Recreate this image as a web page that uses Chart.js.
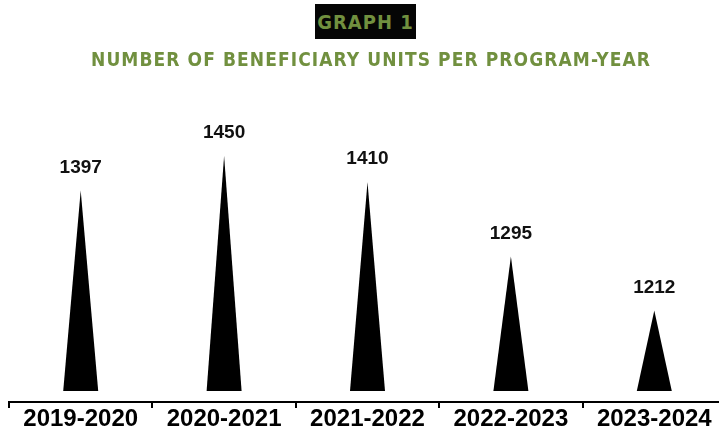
<!DOCTYPE html>
<html>
<head>
<meta charset="utf-8">
<script src="https://cdn.jsdelivr.net/npm/chart.js@4/dist/chart.umd.min.js"></script>
<style>
  html, body { margin: 0; padding: 0; background: #fff; width: 719px; height: 431px; overflow: hidden; }
  #wrap { position: absolute; left: 0; top: 0; width: 730px; height: 431px; }
  #badge { position: absolute; left: 315px; top: 4px; width: 101px; height: 35px; background: #050505;
           color: #71903f; font: bold 20px "DejaVu Sans Condensed", "DejaVu Sans"; text-align: center;
           line-height: 36px; letter-spacing: 1px; }
  #subtitle { position: absolute; left: 91px; top: 47px; white-space: nowrap;
              color: #71903f; font: bold 19px "DejaVu Sans Condensed", "DejaVu Sans"; line-height: 24px; }
</style>
</head>
<body>
<div id="wrap"><canvas id="chart"></canvas></div>
<div id="badge">GRAPH 1</div>
<div id="subtitle">NUMBER OF BENEFICIARY UNITS PER PROGRAM-YEAR</div>
<script>
// program years and beneficiary units
const years = ['2019-2020', '2020-2021', '2021-2022', '2022-2023', '2023-2024'];
const units = [1397, 1450, 1410, 1295, 1212];

// value axis range (graphic does not start at zero)
const spikeBase = 1088;
const yMin = 1071;
const yMax = 1544;

// stretch subtitle letter spacing to the width used in the graphic
(function () {
    const el = document.getElementById('subtitle');
    const target = 559;
    const w = el.getBoundingClientRect().width;
    const n = el.textContent.length;
    el.style.letterSpacing = ((target - w) / (n - 1)) + 'px';
})();

// draws each bar as a thin triangle plus its value above the tip
const spikes = {
    id: 'spikes',
    afterDatasetsDraw(chart) {
        const ctx = chart.ctx;
        ctx.save();
        chart.getDatasetMeta(0).data.forEach((bar, i) => {
            const p = bar.getProps(['x', 'y', 'base', 'width'], true);
            ctx.beginPath();
            ctx.moveTo(p.x - p.width / 2, p.base);
            ctx.lineTo(p.x, p.y);
            ctx.lineTo(p.x + p.width / 2, p.base);
            ctx.closePath();
            ctx.fillStyle = '#000';
            ctx.fill();

            ctx.font = 'bold 19px "Liberation Sans", Arial, sans-serif';
            ctx.fillStyle = '#111';
            ctx.textAlign = 'center';
            ctx.textBaseline = 'middle';
            ctx.fillText(units[i], p.x, p.y - 23);
        });
        ctx.restore();
    }
};

new Chart(document.getElementById('chart'), {
    type: 'bar',
    data: {
        labels: years,
        datasets: [{
            data: units,
            base: spikeBase,
            barThickness: 35,
            backgroundColor: 'rgba(0,0,0,0)'
        }]
    },
    options: {
        responsive: true,
        maintainAspectRatio: false,
        animation: false,
        layout: { padding: { left: 9, right: 4, top: 95, bottom: 0 } },
        plugins: { legend: { display: false }, tooltip: { enabled: false } },
        scales: {
            x: {
                grid: { display: true, offset: true, drawOnChartArea: false, drawTicks: true, tickLength: 6, color: '#000', lineWidth: 2 },
                border: { display: true, color: '#000', width: 2 },
                ticks: {
                    color: '#000',
                    padding: 0,
                    maxRotation: 0,
                    font: { family: '"Liberation Sans", Arial, sans-serif', size: 24, weight: 'bold', lineHeight: 0.96 }
                }
            },
            y: { display: false, min: yMin, max: yMax }
        }
    },
    plugins: [spikes]
});
</script>
</body>
</html>
